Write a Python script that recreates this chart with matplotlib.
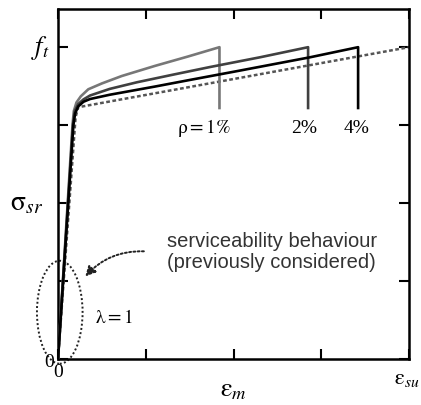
import matplotlib
matplotlib.use("Agg")
import matplotlib.pyplot as plt
from matplotlib.patches import Ellipse

plt.rcParams['mathtext.fontset'] = 'stix'
plt.rcParams['font.family'] = ['Liberation Serif', 'DejaVu Serif']

# curves (x: strain, eps_su = 4; y: stress, f_t = 4)
x_r1 = [0, 0.165, 0.18, 0.21, 0.26, 0.345, 0.50, 0.726, 1.105, 1.48, 1.84, 1.84]
y_r1 = [0, 3.00, 3.18, 3.29, 3.37, 3.46, 3.535, 3.63, 3.76, 3.88, 4.00, 3.22]

x_r2 = [0, 0.17, 0.19, 0.23, 0.29, 0.365, 0.59, 0.90, 1.30, 1.73, 2.30, 2.85, 2.85]
y_r2 = [0, 3.00, 3.18, 3.27, 3.33, 3.38, 3.465, 3.55, 3.645, 3.745, 3.87, 4.00, 3.22]

x_r4 = [0, 0.175, 0.195, 0.23, 0.29, 0.365, 0.59, 1.105, 1.48, 2.05, 2.87, 3.42, 3.42]
y_r4 = [0, 3.00, 3.15, 3.24, 3.30, 3.335, 3.39, 3.495, 3.575, 3.695, 3.87, 4.00, 3.22]

x_bare = [0, 0.20, 0.23, 4.0]
y_bare = [0, 3.10, 3.23, 4.0]

rho_labels = [r'$\mathrm{\rho = 1\%}$', '2%', '4%']
rho_label_x = [1.66, 2.80, 3.40]

fig = plt.figure(figsize=(4.21, 4.06), dpi=100)
ax = fig.add_axes([0.1378, 0.1133, 0.8337, 0.8621])

ax.plot(x_bare, y_bare, color='#555555', lw=1.8, ls=(0, (1.5, 1)), zorder=2)
ax.plot(x_r1, y_r1, color='#777777', lw=1.9, zorder=3)
ax.plot(x_r2, y_r2, color='#404040', lw=1.9, zorder=4)
ax.plot(x_r4, y_r4, color='black', lw=1.9, zorder=5)

for lab, xx in zip(rho_labels, rho_label_x):
    ax.text(xx, 2.97, lab, ha='center', va='center', fontsize=14)

ax.set_xlim(0, 4)
ax.set_ylim(0, 4.49)
ax.set_xticks([0, 1, 2, 3, 4])
ax.set_xticklabels(['0', '', '', '', ''])
ax.set_yticks([0, 1, 2, 3, 4])
ax.set_yticklabels(['0', '', '', '', ''])
ax.tick_params(direction='in', length=7, width=1.5, top=True, right=True,
               labelsize=14, pad=3)
for sp in ax.spines.values():
    sp.set_linewidth(1.8)

ax.text(-0.2, 4.0, r'$f_t$', fontsize=19, ha='center', va='center')
ax.text(-0.36, 2.0, r'$\mathrm{\sigma}_{sr}$', fontsize=20, ha='center', va='center')
ax.text(2.0, -0.40, r'$\mathrm{\varepsilon}_{m}$', fontsize=19, ha='center', va='center')
ax.text(3.98, -0.25, r'$\mathrm{\varepsilon}_{su}$', fontsize=16, ha='center', va='center')

ax.text(1.24, 1.39, 'serviceability behaviour\n(previously considered)',
        family='Liberation Sans', fontsize=14.5, color='#333333',
        ha='left', va='center', linespacing=1.15)
ax.text(0.42, 0.54, r'$\mathrm{\lambda = 1}$', fontsize=14, ha='left', va='center')

ell = Ellipse((0.02, 0.6), 0.52, 1.32, fill=False, ls=(0, (1, 1.2)), lw=1.4,
              color='#222222', clip_on=False)
ax.add_patch(ell)
ax.annotate('', xy=(0.29, 1.03), xytext=(1.01, 1.38),
            arrowprops=dict(arrowstyle='-|>', ls=(0, (1, 1.2)), lw=1.4,
                            color='#222222', connectionstyle='arc3,rad=0.25',
                            mutation_scale=15))

fig.savefig('out.png', dpi=100)
